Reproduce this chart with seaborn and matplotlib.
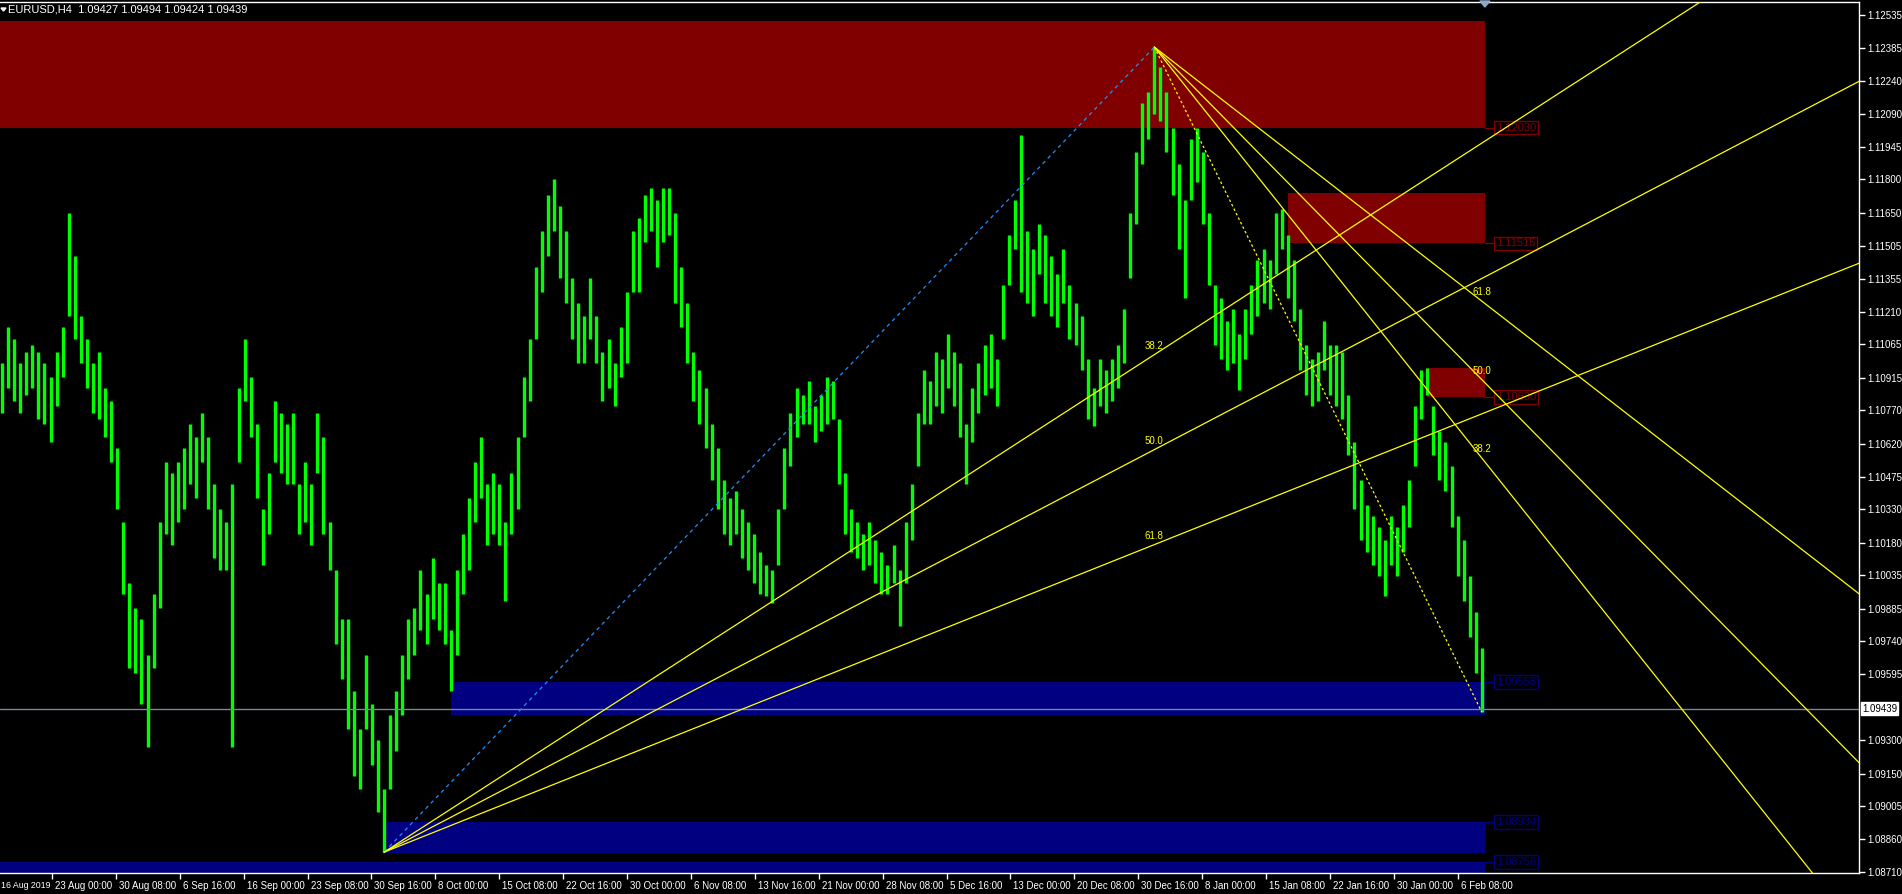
import numpy as np
import matplotlib
matplotlib.use("Agg")
import matplotlib.pyplot as plt
import matplotlib.patches as mpatches
import matplotlib.transforms as mtransforms
import seaborn as sns

# EURUSD H4, one entry per ~3 bars (high / low)
highs = [
    1.1098, 1.1114, 1.1109, 1.1098, 1.1103, 1.1106, 1.1103, 1.1098, 1.1092, 1.1103,
    1.1114, 1.1165, 1.1146, 1.1119, 1.1109, 1.1098, 1.1103, 1.1087, 1.1081, 1.1060,
    1.1027, 1.1000, 1.0989, 1.0984, 1.0968, 1.0995, 1.1027, 1.1054, 1.1049, 1.1054,
    1.1060, 1.1071, 1.1065, 1.1076, 1.1065, 1.1044, 1.1033, 1.1027, 1.1044, 1.1087,
    1.1109, 1.1092, 1.1071, 1.1033, 1.1049, 1.1081, 1.1076, 1.1071, 1.1076, 1.1044,
    1.1054, 1.1044, 1.1076, 1.1065, 1.1027, 1.1006, 1.0984, 1.0984, 1.0952, 1.0935,
    1.0968, 1.0946, 1.0930, 1.0908, 1.0941, 1.0952, 1.0968, 1.0984, 1.0989, 1.1006,
    1.0995, 1.1011, 1.1000, 1.1000, 1.0979, 1.1006, 1.1022, 1.1038, 1.1054, 1.1065,
    1.1044, 1.1049, 1.1044, 1.1027, 1.1049, 1.1065, 1.1092, 1.1109, 1.1141, 1.1157,
    1.1173, 1.1180, 1.1168, 1.1157, 1.1136, 1.1125, 1.1119, 1.1136, 1.1119, 1.1103,
    1.1109, 1.1098, 1.1114, 1.1130, 1.1157, 1.1163, 1.1173, 1.1176, 1.1171, 1.1176,
    1.1176, 1.1165, 1.1141, 1.1125, 1.1103, 1.1095, 1.1087, 1.1071, 1.1060, 1.1046,
    1.1038, 1.1041, 1.1033, 1.1027, 1.1022, 1.1014, 1.1008, 1.1006, 1.1033, 1.1060,
    1.1076, 1.1087, 1.1084, 1.1090, 1.1079, 1.1084, 1.1092, 1.1090, 1.1073, 1.1049,
    1.1033, 1.1027, 1.1022, 1.1027, 1.1019, 1.1014, 1.1008, 1.1017, 1.1006, 1.1027,
    1.1044, 1.1076, 1.1095, 1.1090, 1.1103, 1.1100, 1.1111, 1.1103, 1.1098, 1.1071,
    1.1087, 1.1098, 1.1106, 1.1111, 1.1100, 1.1133, 1.1155, 1.1171, 1.1200, 1.1157,
    1.1149, 1.1160, 1.1155, 1.1146, 1.1138, 1.1149, 1.1133, 1.1125, 1.1119, 1.1100,
    1.1087, 1.1100, 1.1095, 1.1100, 1.1106, 1.1122, 1.1165, 1.1192, 1.1214, 1.1219,
    1.1239, 1.1230, 1.1219, 1.1203, 1.1187, 1.1171, 1.1198, 1.1203, 1.1192, 1.1165,
    1.1133, 1.1127, 1.1117, 1.1122, 1.1111, 1.1122, 1.1133, 1.1144, 1.1149, 1.1144,
    1.1165, 1.1167, 1.1155, 1.1144, 1.1122, 1.1106, 1.1100, 1.1103, 1.1117, 1.1106,
    1.1106, 1.1103, 1.1084, 1.1063, 1.1046, 1.1035, 1.1030, 1.1025, 1.1019, 1.1030,
    1.1025, 1.1035, 1.1046, 1.1079, 1.1095, 1.1096, 1.1079, 1.1068, 1.1063, 1.1052,
    1.1030, 1.1019, 1.1003, 1.0987, 1.0971,
]
lows = [
    1.1076, 1.1087, 1.1081, 1.1076, 1.1084, 1.1087, 1.1073, 1.1071, 1.1063, 1.1079,
    1.1092, 1.1119, 1.1109, 1.1098, 1.1087, 1.1076, 1.1073, 1.1065, 1.1054, 1.1033,
    1.0995, 1.0962, 1.0960, 1.0946, 1.0927, 1.0962, 1.0989, 1.1022, 1.1017, 1.1027,
    1.1033, 1.1044, 1.1038, 1.1054, 1.1033, 1.1011, 1.1006, 1.1006, 1.0927, 1.1054,
    1.1081, 1.1065, 1.1038, 1.1008, 1.1022, 1.1054, 1.1049, 1.1044, 1.1044, 1.1022,
    1.1027, 1.1017, 1.1049, 1.1022, 1.1006, 1.0973, 1.0957, 1.0935, 1.0914, 1.0908,
    1.0935, 1.0919, 1.0898, 1.0880, 1.0908, 1.0925, 1.0941, 1.0957, 1.0968, 1.0979,
    1.0973, 1.0984, 1.0979, 1.0973, 1.0952, 1.0968, 1.0995, 1.1006, 1.1027, 1.1038,
    1.1017, 1.1022, 1.1017, 1.0992, 1.1022, 1.1033, 1.1065, 1.1081, 1.1109, 1.1130,
    1.1146, 1.1157, 1.1136, 1.1125, 1.1109, 1.1098, 1.1098, 1.1109, 1.1098, 1.1081,
    1.1087, 1.1079, 1.1092, 1.1098, 1.1130, 1.1130, 1.1152, 1.1157, 1.1141, 1.1152,
    1.1155, 1.1125, 1.1114, 1.1098, 1.1081, 1.1071, 1.1060, 1.1046, 1.1033, 1.1022,
    1.1017, 1.1022, 1.1011, 1.1006, 1.1000, 1.0995, 1.0994, 1.0991, 1.1008, 1.1033,
    1.1052, 1.1065, 1.1071, 1.1071, 1.1063, 1.1068, 1.1071, 1.1073, 1.1044, 1.1022,
    1.1014, 1.1011, 1.1006, 1.1008, 1.1000, 1.0995, 1.0995, 1.1000, 1.0981, 1.1000,
    1.1019, 1.1052, 1.1071, 1.1071, 1.1079, 1.1076, 1.1087, 1.1079, 1.1065, 1.1044,
    1.1063, 1.1076, 1.1084, 1.1087, 1.1079, 1.1109, 1.1133, 1.1149, 1.1130, 1.1125,
    1.1119, 1.1138, 1.1125, 1.1119, 1.1114, 1.1125, 1.1109, 1.1106, 1.1095, 1.1073,
    1.1070, 1.1079, 1.1076, 1.1081, 1.1087, 1.1098, 1.1136, 1.1160, 1.1187, 1.1198,
    1.1209, 1.1206, 1.1192, 1.1173, 1.1149, 1.1127, 1.1171, 1.1179, 1.1160, 1.1133,
    1.1106, 1.1100, 1.1095, 1.1098, 1.1086, 1.1100, 1.1111, 1.1119, 1.1125, 1.1122,
    1.1138, 1.1149, 1.1127, 1.1117, 1.1095, 1.1084, 1.1079, 1.1081, 1.1095, 1.1084,
    1.1079, 1.1073, 1.1057, 1.1033, 1.1019, 1.1014, 1.1008, 1.1003, 1.0994, 1.1008,
    1.1003, 1.1014, 1.1025, 1.1052, 1.1073, 1.1084, 1.1057, 1.1046, 1.1041, 1.1025,
    1.1003, 1.0992, 1.0976, 1.0960, 1.09424,
]

quote = "EURUSD,H4  1.09427 1.09494 1.09424 1.09439"
bid = 1.09439

fan_levels = [38.2, 50.0, 61.8]

# supply (red) and demand (blue) zones
supply_top = [1.12508, 1.11739, 1.10961]
supply_bottom = [1.12030, 1.11515, 1.10830]
supply_start = [-1, 212, 235]
demand_top = [1.09558, 1.08934, 1.08756]
demand_bottom = [1.09413, 1.08797, 1.08600]
demand_start = [74, 63, -1]

y_ticks = [1.12535, 1.12385, 1.12240, 1.12090, 1.11945, 1.11800, 1.11650, 1.11505,
           1.11355, 1.11210, 1.11065, 1.10915, 1.10770, 1.10620, 1.10475, 1.10330,
           1.10180, 1.10035, 1.09885, 1.09740, 1.09595, 1.09300, 1.09150, 1.09005,
           1.08860, 1.08710]
x_labels = ["23 Aug 00:00", "30 Aug 08:00", "6 Sep 16:00", "16 Sep 00:00", "23 Sep 08:00",
            "30 Sep 16:00", "8 Oct 00:00", "15 Oct 08:00", "22 Oct 16:00", "30 Oct 00:00",
            "6 Nov 08:00", "13 Nov 16:00", "21 Nov 00:00", "28 Nov 08:00", "5 Dec 16:00",
            "13 Dec 00:00", "20 Dec 08:00", "30 Dec 16:00", "8 Jan 00:00", "15 Jan 08:00",
            "22 Jan 16:00", "30 Jan 00:00", "6 Feb 08:00"]
first_label = "16 Aug 2019"

W, H = 1902, 894
PX = 6.065  # pixels per entry

sns.set_theme(style="dark")
plt.rcParams['font.family'] = ['Liberation Sans', 'DejaVu Sans']

fig = plt.figure(figsize=(W / 100, H / 100), dpi=100, facecolor='black')
ax = fig.add_axes([0, 21 / H, 1859 / W, 871 / H])
ax.set_facecolor('black')
ax.grid(False)

x = np.arange(len(highs))
zone_end = x[-1] + 0.5
lab_x = zone_end + 11 / PX

for top, bot, start in zip(supply_top, supply_bottom, supply_start):
    ax.add_patch(mpatches.Rectangle((start, bot), zone_end - start, top - bot,
                                    fc='#800000', ec='none', zorder=1))
    ax.plot([zone_end, lab_x], [bot, bot], color='#800000', lw=1, zorder=1)
    ax.text(lab_x, bot, f"{bot:.5f}", color='#800000', fontsize=8, va='center', ha='left',
            bbox=dict(fc='black', ec='#800000', pad=1.2, lw=1), zorder=1)
for top, bot, start in zip(demand_top, demand_bottom, demand_start):
    ax.add_patch(mpatches.Rectangle((start, bot), zone_end - start, top - bot,
                                    fc='#000080', ec='none', zorder=1))
    ax.plot([zone_end, lab_x], [top, top], color='#000080', lw=1, zorder=1)
    ax.text(lab_x, top, f"{top:.5f}", color='#000080', fontsize=8, va='center', ha='left',
            bbox=dict(fc='black', ec='#000080', pad=1.2, lw=1), zorder=1)

# price bars
ax.vlines(x, lows, highs, color='#00FF00', lw=2.4, zorder=2)

# current bid line
ax.axhline(bid, color='#778899', lw=1, zorder=3)

# fibonacci fans
lo_i = int(np.argmin(lows))
hi_i = int(np.argmax(highs))
end_i = len(lows) - 1
lo_p, hi_p, end_p = lows[lo_i], highs[hi_i], lows[end_i]
x_far = 340

ax.plot([lo_i, hi_i], [lo_p, hi_p], color='#1E90FF', lw=0.9, ls=(0, (3, 3)), zorder=4)
ax.plot([hi_i, end_i], [hi_p, end_p], color='#FFFF00', lw=0.9, ls=(0, (2, 2)), zorder=4)

for lvl in fan_levels:
    p = hi_p - lvl / 100 * (hi_p - lo_p)
    k = (p - lo_p) / (hi_i - lo_i)
    sns.lineplot(x=[lo_i, x_far], y=[lo_p, lo_p + k * (x_far - lo_i)], ax=ax,
                 color='#FFFF00', lw=0.9, zorder=4)
    ax.annotate(f"{lvl:.1f}", (hi_i, p), xytext=(0, 4), textcoords='offset pixels',
                color='#FFFF00', fontsize=7, ha='center', va='bottom', zorder=5)

    q = end_p + lvl / 100 * (hi_p - end_p)
    k2 = (q - hi_p) / (end_i - hi_i)
    sns.lineplot(x=[hi_i, x_far], y=[hi_p, hi_p + k2 * (x_far - hi_i)], ax=ax,
                 color='#FFFF00', lw=0.9, zorder=4)
    ax.annotate(f"{lvl:.1f}", (end_i, q), xytext=(0, 4), textcoords='offset pixels',
                color='#FFFF00', fontsize=7, ha='center', va='bottom', zorder=5)

ax.set_xlim(-2 / PX, -2 / PX + 1859 / PX)
ax.set_ylim(1.08707, 1.12591)

for side in ['top', 'right', 'bottom']:
    ax.spines[side].set_visible(True)
    ax.spines[side].set_color('white')
    ax.spines[side].set_linewidth(1)
ax.spines['left'].set_visible(False)

ax.yaxis.tick_right()
ax.set_yticks(y_ticks)
ax.set_yticklabels([f"{v:.5f}" for v in y_ticks])
ax.tick_params(axis='y', right=True, left=False, colors='white', labelcolor='white',
               length=4, width=1, direction='out', pad=2, labelsize=7)

xpos = 8.24 + 10.536 * np.arange(len(x_labels))
ax.set_xticks(xpos)
ax.set_xticklabels(x_labels, ha='left')
ax.tick_params(axis='x', bottom=True, colors='white', labelcolor='white',
               length=4, width=1, direction='out', pad=2, labelsize=7)
shift = mtransforms.ScaledTranslation(3 / 100, 0, fig.dpi_scale_trans)
for lab in ax.get_xticklabels():
    lab.set_transform(lab.get_transform() + shift)
ax.set_xlabel('')
ax.set_ylabel('')

fig.text(1 / W, 1 - 885 / H, first_label, color='white', fontsize=6.3, ha='left', va='center')

# bid label on the price scale
blend = mtransforms.blended_transform_factory(ax.transAxes, ax.transData)
ax.text(1 + 3 / 1859, bid, f"{bid:.5f}", transform=blend, color='black', fontsize=7,
        va='center', ha='left', bbox=dict(fc='white', ec='white', pad=1.0), clip_on=False)

# header
fig.text(8 / W, 1 - 10 / H, quote, color='white', fontsize=8, ha='left', va='center')
fig.add_artist(mpatches.Polygon([(1 / W, 1 - 8 / H), (6 / W, 1 - 8 / H), (3.5 / W, 1 - 11 / H)],
                                closed=True, transform=fig.transFigure, color='white'))
# chart shift marker
sx = (2 + zone_end * PX) / W
fig.add_artist(mpatches.Polygon([(sx - 5 / W, 1 - 1 / H), (sx + 5 / W, 1 - 1 / H), (sx, 1 - 7 / H)],
                                closed=True, transform=fig.transFigure, color='#8FA8C8'))

fig.savefig('out.png', dpi=100, facecolor='black')
